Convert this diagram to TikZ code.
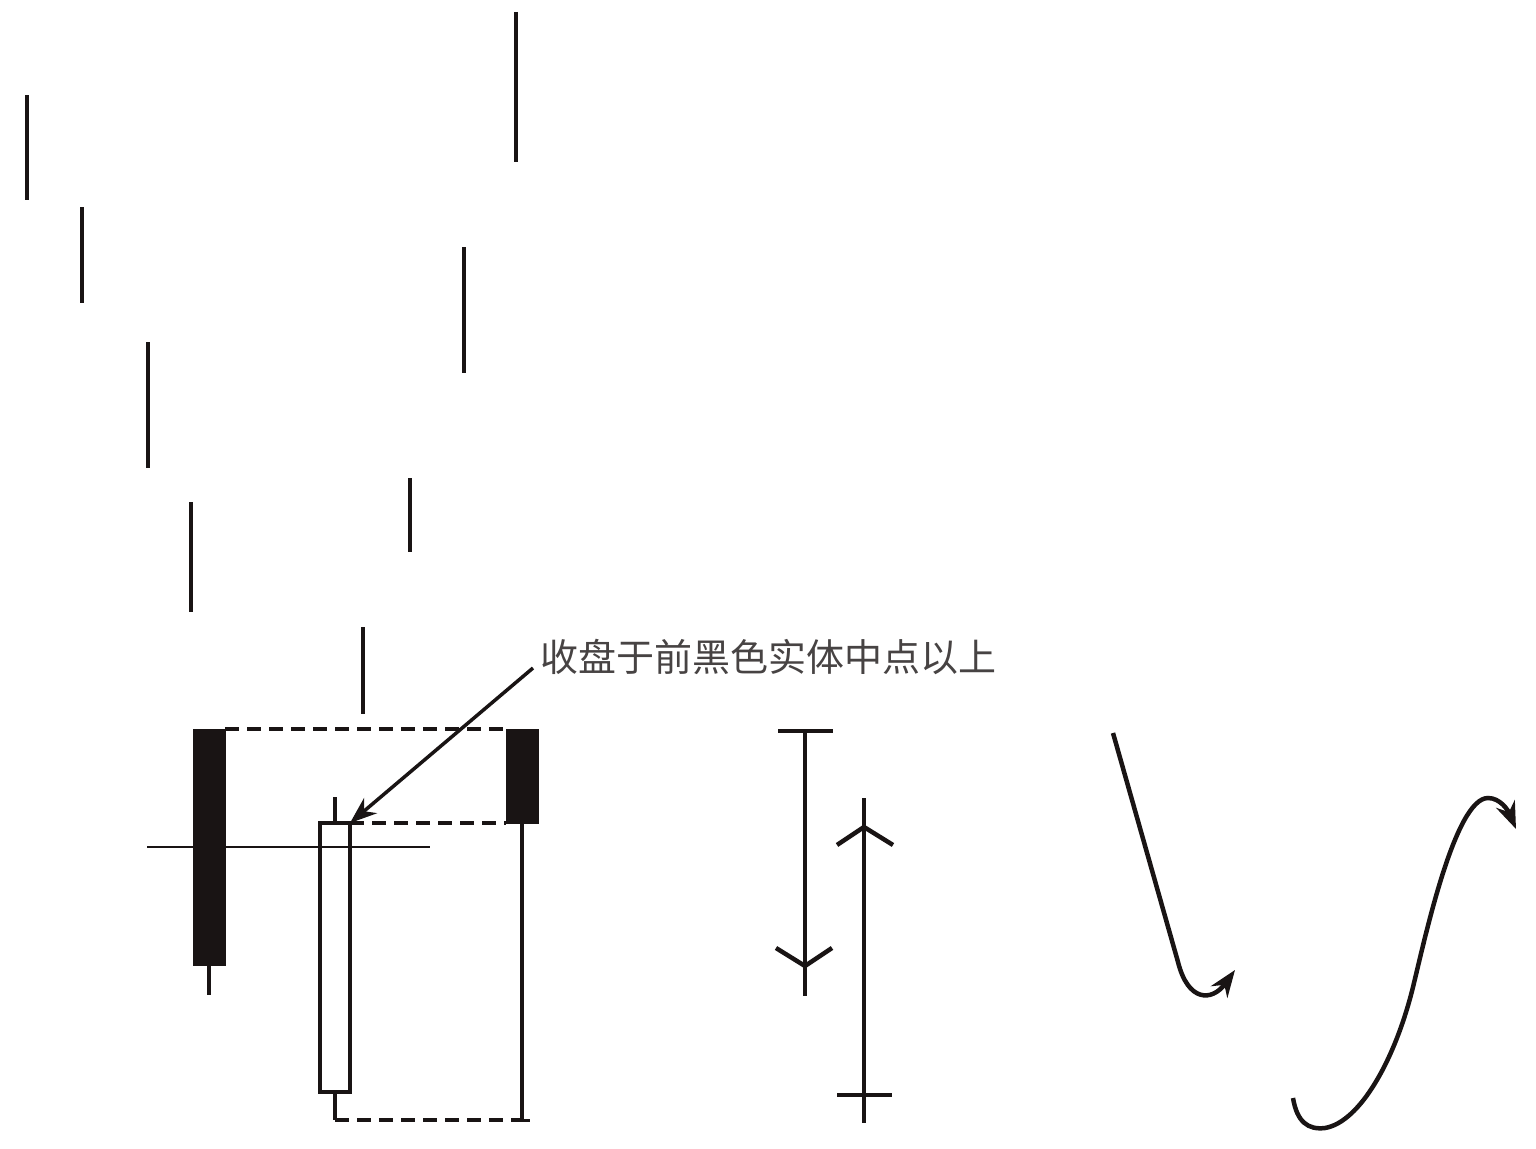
\documentclass[tikz,border=0pt]{standalone}
\usepackage{fontspec}
\newfontfamily\cjk{Noto Sans CJK SC}
\usetikzlibrary{arrows.meta}
\definecolor{inkclr}{rgb}{0.1, 0.08, 0.08}
\tikzset{ %
  ,>={Stealth[length=27pt, width=20pt]}
  ,every node/.style={inner sep=0, outer sep=0}
  ,wick/.style={draw=inkclr, line width=4.5pt}
  ,blackbody/.style={draw=inkclr, fill=inkclr, line width=1pt, minimum width=32pt}
  ,whitebody/.style={draw=inkclr, fill=white, line width=3.5pt, minimum width=30pt}
  ,guide/.style={draw=inkclr, line width=3.5pt, dash pattern=on 14pt off 8pt}
  ,trend/.style={draw=inkclr, line width=4.5pt}
  ,note/.style={font=\cjk\fontsize{38}{38}\selectfont, text=inkclr!80}
}
\begin{document}
\begin{tikzpicture}[x=1pt, y=-1pt]
      \useasboundingbox (0,0) rectangle (1536,1148);
      % falling lines
      \foreach \x/\a/\b in {27/95/200, 82/207/303, 148/342/468, 191/502/612,
                            363/627/714, 410/478/552, 464/247/373, 516/12/162}
        \draw[wick] (\x,\a) -- (\x,\b);
      % candles
      \node[blackbody, minimum height=236pt] (c1) at (209,847) {};
      \node[whitebody, minimum height=269pt] (c2) at (335,957.5) {};
      \node[blackbody, minimum height=94pt] (c3) at (522,776) {};
      \draw[wick] (c1.south) -- (209,995);
      \draw[wick] (c2.north) -- (335,797);
      \draw[wick] (c2.south) -- (335,1120) coordinate (lo2);
      \draw[wick] (c3.south) -- (c3.south |- lo2) coordinate (lo3);
      \draw[wick, line width=3pt] ([xshift=-8pt]lo3) -- ([xshift=8pt]lo3);
      \draw[guide] (c1.north east) -- (c1.north east -| c3.west);
      \draw[guide] (c2.north east) -- (c2.north east -| c3.west);
      \draw[guide] (lo2) -- (lo3);
      \draw[inkclr, line width=2.2pt] (147,847) -- (430,847);
      % label
      \node[note, anchor=west] (lbl) at (540,657) {收盘于前黑色实体中点以上};
      \draw[->, inkclr, line width=3.5pt] ([shift={(-7,11)}]lbl.west) -- (c2.north east);
      % down and up
      \draw[trend] (778,731) -- (833,731);
      \draw[trend] (805,731) -- (805,996);
      \draw[trend] (776,948) -- (805,966) -- (832,948);
      \draw[trend] (864,798) -- (864,1123);
      \draw[trend] (837,845) -- (864,827) -- (893,845);
      \draw[trend] (837,1095) -- (892,1095);
      % curves
      \draw[->, trend] (1113,733) -- (1178,962)
        .. controls (1188,1002) and (1212,1002) .. (1235,970);
      \draw[->, trend] (1293,1098) .. controls (1297,1122) and (1308,1130) .. (1325,1128)
        .. controls (1360,1122) and (1395,1060) .. (1413,987)
        .. controls (1425,938) and (1455,798) .. (1488,798)
        .. controls (1500,798) and (1508,810) .. (1516,829);
    \end{tikzpicture}
\end{document}
